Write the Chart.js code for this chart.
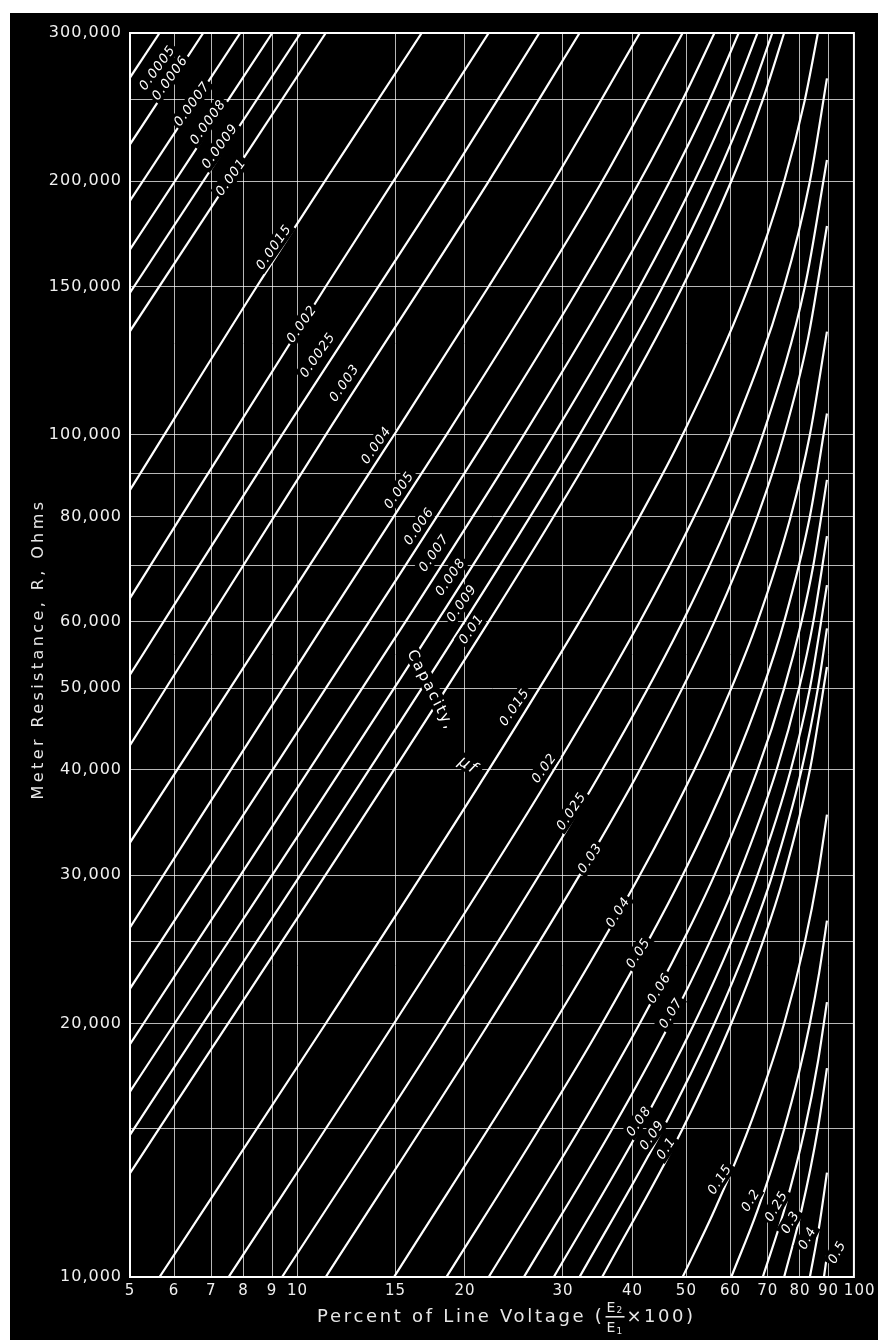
<!DOCTYPE html>
<html>
<head>
<meta charset="utf-8">
<title>Meter Resistance vs Percent of Line Voltage</title>
<script src="https://cdn.jsdelivr.net/npm/chart.js@4.4.1/dist/chart.umd.min.js"></script>
<style>
  html, body { margin: 0; padding: 0; background: #fff; }
  canvas { display: block; }
</style>
</head>
<body>
<canvas id="chart" width="878" height="1343"></canvas>
<script>
// Axis ticks (percent of line voltage, meter resistance in ohms)
const percentTicks = [5, 6, 7, 8, 9, 10, 15, 20, 30, 40, 50, 60, 70, 80, 90, 100];
const ohmTicks = [10000, 15000, 20000, 25000, 30000, 40000, 50000, 60000, 70000, 80000, 90000, 100000, 150000, 200000, 250000, 300000];
const ohmTickLabels = ['10,000', '', '20,000', '', '30,000', '40,000', '50,000', '60,000', '', '80,000', '', '100,000', '150,000', '200,000', '', '300,000'];

// Capacity of each curve, microfarads
const capacities = ['0.0005', '0.0006', '0.0007', '0.0008', '0.0009', '0.001', '0.0015', '0.002', '0.0025', '0.003',
  '0.004', '0.005', '0.006', '0.007', '0.008', '0.009', '0.01', '0.015', '0.02', '0.025', '0.03',
  '0.04', '0.05', '0.06', '0.07', '0.08', '0.09', '0.1', '0.15', '0.2', '0.25', '0.3', '0.4', '0.5'];

// Points: [percent, ohms]
const curves = [
  [[5, 265600], [5.65, 300000]],
  [[5, 221300], [6.77, 300000]],
  [[5, 189700], [7.89, 300000]],
  [[5, 166000], [9.01, 300000]],
  [[5, 147500], [10.13, 300000]],
  [[5, 132800], [11.24, 300000]],
  [[5, 86000], [8.45, 150000], [16.72, 300000]],
  [[5, 64000], [11.24, 150000], [22.06, 300000]],
  [[5, 51900], [9.38, 100000], [18.52, 200000], [27.2, 300000]],
  [[5, 42800], [11.24, 100000], [22.06, 200000], [32.13, 300000]],
  [[5, 32800], [14.91, 100000], [22.06, 150000], [28.88, 200000], [41.22, 300000]],
  [[5, 26000], [11.24, 60000], [18.52, 100000], [27.2, 150000], [35.28, 200000], [49.22, 300000]],
  [[5, 22000], [13.45, 60000], [22.06, 100000], [32.13, 150000], [41.22, 200000], [49.22, 250000], [56.15, 300000]],
  [[5, 18900], [15.64, 60000], [25.52, 100000], [36.8, 150000], [46.68, 200000], [55.07, 250000], [62.07, 300000]],
  [[5, 16600], [17.81, 60000], [28.88, 100000], [41.22, 150000], [51.65, 200000], [60.2, 250000], [67.09, 300000]],
  [[5, 14750], [19.95, 60000], [32.13, 100000], [45.36, 150000], [56.15, 200000], [64.69, 250000], [71.34, 300000]],
  [[5, 13280], [22.06, 60000], [35.28, 100000], [49.22, 150000], [60.2, 200000], [68.59, 250000], [74.92, 300000]],
  [[5.65, 10000], [11.24, 20000], [22.06, 40000], [32.13, 60000], [41.22, 80000], [49.22, 100000], [64.69, 150000], [74.92, 200000], [81.64, 250000], [86.15, 300000]],
  [[7.52, 10000], [14.91, 20000], [28.88, 40000], [41.22, 60000], [51.65, 80000], [60.2, 100000], [74.92, 150000], [83.34, 200000], [89.44, 265000]],
  [[9.38, 10000], [18.52, 20000], [35.28, 40000], [49.22, 60000], [60.2, 80000], [68.59, 100000], [81.64, 150000], [89.44, 212000]],
  [[11.24, 10000], [22.06, 20000], [32.13, 30000], [41.22, 40000], [56.15, 60000], [67.09, 80000], [74.92, 100000], [82.68, 130000], [89.44, 177000]],
  [[14.91, 10000], [28.88, 20000], [41.22, 30000], [51.65, 40000], [60.2, 50000], [67.09, 60000], [76.99, 80000], [83.34, 100000], [89.44, 132600]],
  [[18.52, 10000], [27.2, 15000], [35.28, 20000], [49.22, 30000], [60.2, 40000], [68.59, 50000], [74.92, 60000], [83.34, 80000], [89.44, 106000]],
  [[22.06, 10000], [32.13, 15000], [41.22, 20000], [49.22, 25000], [56.15, 30000], [67.09, 40000], [74.92, 50000], [80.5, 60000], [84.54, 70000], [89.44, 88400]],
  [[25.52, 10000], [36.8, 15000], [46.68, 20000], [55.07, 25000], [62.07, 30000], [72.6, 40000], [79.7, 50000], [84.54, 60000], [89.44, 75800]],
  [[28.88, 10000], [41.22, 15000], [51.65, 20000], [60.2, 25000], [67.09, 30000], [76.99, 40000], [83.34, 50000], [89.44, 66300]],
  [[32.13, 10000], [45.36, 15000], [56.15, 20000], [64.69, 25000], [71.34, 30000], [80.5, 40000], [86.15, 50000], [89.44, 58900]],
  [[35.28, 10000], [49.22, 15000], [60.2, 20000], [68.59, 25000], [74.92, 30000], [83.34, 40000], [89.44, 53000]],
  [[49.22, 10000], [56.15, 12000], [64.69, 15000], [74.92, 20000], [81.64, 25000], [86.15, 30000], [89.44, 35400]],
  [[60.2, 10000], [67.09, 12000], [74.92, 15000], [79.7, 17500], [83.34, 20000], [86.63, 23000], [89.44, 26500]],
  [[68.59, 10000], [74.92, 12000], [81.64, 15000], [86.15, 18000], [89.44, 21200]],
  [[74.92, 10000], [80.5, 12000], [86.15, 15000], [89.44, 17700]],
  [[83.34, 10000], [86.63, 11500], [89.44, 13300]],
  [[88.34, 10000], [89.44, 10600]]
];

// Where each curve's capacity label sits (percent, ohms) and its slant in degrees
const labelPercent = [5.59, 5.89, 6.45, 6.89, 7.24, 7.58, 9.05, 10.16, 10.85, 12.12, 13.83, 15.2, 16.5, 17.56, 18.8, 19.7, 20.5,
  24.5, 27.7, 31.0, 33.5, 37.6, 40.9, 44.6, 46.8, 41.0, 43.3, 45.9, 57.3, 65.1, 72.4, 76.7, 82.3, 93.1];
const labelOhms = [272900, 265500, 247300, 235300, 220400, 202500, 167200, 135500, 124500, 115300, 97300, 86040, 77970, 72430, 67830, 63170, 58830,
  47530, 40230, 35760, 31450, 27130, 24260, 22040, 20580, 15320, 14750, 14230, 13070, 12340, 12140, 11620, 11130, 10710];
const labelAngle = [54, 54, 54, 54, 54, 54, 55, 55, 55, 55, 55, 55, 55, 55, 55, 55, 55,
  55, 55, 56, 56, 57, 57, 58, 58, 55, 55, 56, 57, 58, 60, 60, 62, 62];

const xTitle = 'Percent of Line Voltage (';
const yTitle = 'Meter Resistance, R, Ohms';

Chart.defaults.font.family = '"DejaVu Sans", sans-serif';

// Black photo background, frame and axis titles
const backdrop = {
  id: 'backdrop',
  beforeDraw(chart) {
    const ctx = chart.ctx;
    ctx.save();
    ctx.fillStyle = '#fff';
    ctx.fillRect(0, 0, chart.width, chart.height);
    ctx.fillStyle = '#000';
    ctx.fillRect(10, 13, chart.width - 10, chart.height - 16);
    ctx.restore();
    ctx.letterSpacing = '1px';
  },
  afterDraw(chart) {
    const { ctx, chartArea: a } = chart;
    ctx.save();
    ctx.strokeStyle = '#fff';
    ctx.lineWidth = 2;
    ctx.strokeRect(a.left, a.top, a.right - a.left, a.bottom - a.top);

    // y title
    ctx.fillStyle = '#e6e6e6';
    ctx.font = '16px "DejaVu Sans"';
    ctx.letterSpacing = '3.4px';
    ctx.textAlign = 'center';
    ctx.textBaseline = 'middle';
    ctx.save();
    ctx.translate(39, (a.top + a.bottom) / 2 - 6);
    ctx.rotate(-Math.PI / 2);
    ctx.fillText(yTitle, 0, 0);
    ctx.restore();

    // x title with the E2/E1 fraction
    const ty = 1317;
    let tx = 317;
    ctx.textAlign = 'left';
    ctx.font = '18px "DejaVu Sans"';
    ctx.letterSpacing = '2.7px';
    ctx.fillText(xTitle, tx, ty);
    tx += ctx.measureText(xTitle).width;
    ctx.letterSpacing = '0px';
    ctx.font = '14px "DejaVu Sans"';
    ctx.fillText('E', tx + 2, ty - 9);
    ctx.fillText('E', tx + 2, ty + 11);
    ctx.font = '9px "DejaVu Sans"';
    ctx.fillText('2', tx + 12, ty - 6);
    ctx.fillText('1', tx + 12, ty + 15);
    ctx.fillRect(tx + 1, ty - 1, 19, 1.6);
    tx += 22;
    ctx.font = '18px "DejaVu Sans"';
    ctx.letterSpacing = '2.5px';
    ctx.fillText('\u00d7100)', tx, ty);
    ctx.restore();
  }
};

// Capacity labels written beside the curves, on a black patch that breaks nearby lines
const curveLabels = {
  id: 'curveLabels',
  afterDatasetsDraw(chart) {
    const { ctx, scales: { x, y } } = chart;
    const put = (text, px, py, deg, font, pad) => {
      ctx.save();
      ctx.font = font;
      ctx.translate(px, py);
      ctx.rotate(deg * Math.PI / 180);
      const w = ctx.measureText(text).width;
      ctx.fillStyle = '#000';
      ctx.fillRect(-w / 2 - pad, -8, w + pad * 2, 16);
      ctx.fillStyle = '#fff';
      ctx.fillText(text, 0, 1);
      ctx.restore();
    };
    ctx.save();
    ctx.textAlign = 'center';
    ctx.textBaseline = 'middle';
    ctx.letterSpacing = '1px';
    capacities.forEach((c, i) => {
      put(c, x.getPixelForValue(labelPercent[i]), y.getPixelForValue(labelOhms[i]), -labelAngle[i],
        'italic 13px "DejaVu Sans"', 2);
    });
    ctx.letterSpacing = '2px';
    put('Capacity,', x.getPixelForValue(17.4), y.getPixelForValue(49800), 63, '15px "DejaVu Sans"', 4);
    put('\u00b5f', x.getPixelForValue(20.3), y.getPixelForValue(40570), 33, 'italic 16px "DejaVu Sans"', 4);
    ctx.restore();
  }
};

const datasets = capacities.map((c, i) => ({
  label: c + ' \u00b5f',
  data: curves[i].map(([p, r]) => ({ x: p, y: r })),
  showLine: true,
  borderColor: '#fff',
  borderWidth: 2.2,
  pointRadius: 0,
  cubicInterpolationMode: 'monotone',
  fill: false
}));

new Chart(document.getElementById('chart'), {
  type: 'scatter',
  data: { datasets },
  options: {
    responsive: false,
    animation: false,
    devicePixelRatio: 1,
    layout: { padding: { left: 10, top: 33, right: 21, bottom: 0 } },
    plugins: { legend: { display: false }, tooltip: { enabled: false } },
    scales: {
      x: {
        type: 'logarithmic',
        min: 5,
        max: 100,
        afterBuildTicks: s => { s.ticks = percentTicks.map(v => ({ value: v })); },
        afterFit: s => { s.height = 66; },
        ticks: {
          autoSkip: false, maxRotation: 0, color: '#f0f0f0', font: { size: 15 }, padding: 5,
          callback: v => (v === 100 ? '  100' : String(v))
        },
        grid: { color: 'rgba(255,255,255,0.72)', lineWidth: 1, drawTicks: false },
        border: { color: '#fff', width: 2 }
      },
      y: {
        type: 'logarithmic',
        min: 10000,
        max: 300000,
        afterBuildTicks: s => { s.ticks = ohmTicks.map(v => ({ value: v })); },
        afterFit: s => { s.width = 120; },
        ticks: { autoSkip: false, color: '#f0f0f0', font: { size: 16 }, padding: 8, callback: (v, i) => ohmTickLabels[i] },
        grid: { color: 'rgba(255,255,255,0.72)', lineWidth: 1, drawTicks: false },
        border: { color: '#fff', width: 2 }
      }
    }
  },
  plugins: [backdrop, curveLabels]
});
</script>
</body>
</html>
